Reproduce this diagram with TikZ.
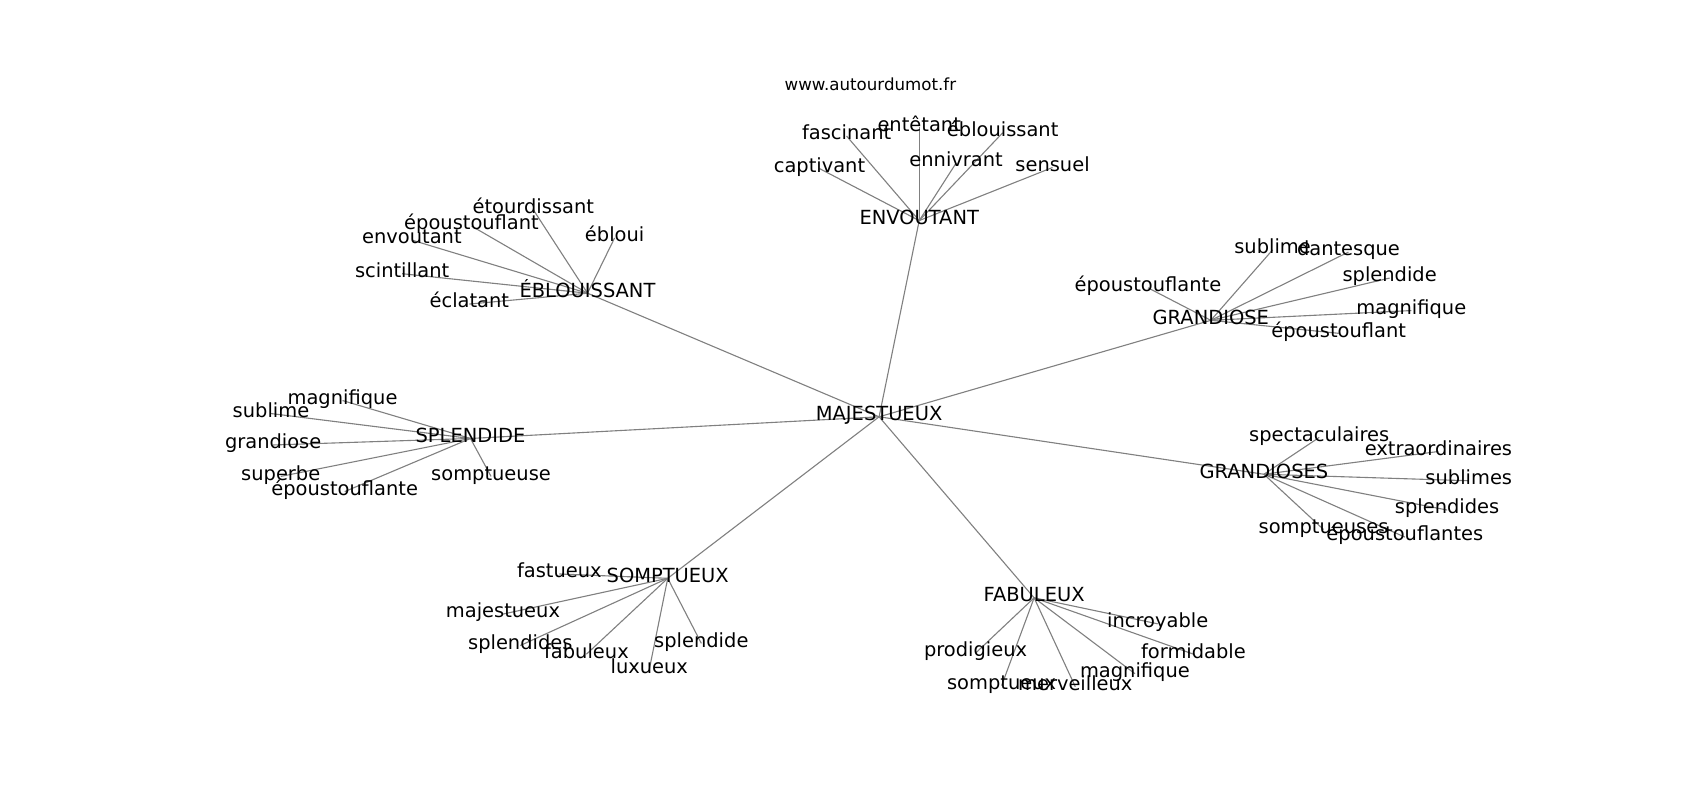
\documentclass[tikz,border=0pt]{standalone}
\usepackage{fontspec}
\setmainfont{DejaVu Sans}
\usetikzlibrary{backgrounds}
\tikzset{
  lbl/.style={inner sep=0pt, font=\fontsize{14pt}{16pt}\selectfont, text height=0.76em, text depth=0.21em, anchor=center},
  ttl/.style={inner sep=0pt, font=\fontsize{12pt}{14pt}\selectfont, text height=0.76em, text depth=0.21em, anchor=center},
  edge/.style={draw=gray, line width=0.8pt}
}
\begin{document}
\begin{tikzpicture}[x=0.78046pt,y=-0.78046pt]
\useasboundingbox (0,-3.5) rectangle (1568.3,734.5);
\node[ttl] (title) at (803,76) {www.autourdumot.fr};
% hub
\node[lbl] (maj) at (811,381) {MAJESTUEUX};
% ENVOUTANT
\node[lbl] (env) at (848,200) {ENVOUTANT};
\node[lbl] (env1) at (756,152) {captivant};
\node[lbl] (env2) at (781,122) {fascinant};
\node[lbl] (env3) at (848,114) {entêtant};
\node[lbl] (env4) at (925,119) {éblouissant};
\node[lbl] (env5) at (882,147) {ennivrant};
\node[lbl] (env6) at (971,151) {sensuel};
% EBLOUISSANT
\node[lbl] (ebl) at (542,267) {ÉBLOUISSANT};
\node[lbl] (ebl1) at (492,190) {étourdissant};
\node[lbl] (ebl2) at (435,205) {époustouflant};
\node[lbl] (ebl3) at (380,218) {envoutant};
\node[lbl] (ebl4) at (567,216) {ébloui};
\node[lbl] (ebl5) at (371,249) {scintillant};
\node[lbl] (ebl6) at (433,277) {éclatant};
% GRANDIOSE
\node[lbl] (gra) at (1117,292) {GRANDIOSE};
\node[lbl] (gra1) at (1174,227) {sublime};
\node[lbl] (gra2) at (1244,229) {dantesque};
\node[lbl] (gra3) at (1282,253) {splendide};
\node[lbl] (gra4) at (1302,283) {magnifique};
\node[lbl] (gra5) at (1235,304) {époustouflant};
\node[lbl] (gra6) at (1059,262) {époustouflante};
% SPLENDIDE
\node[lbl] (spl) at (434,401) {SPLENDIDE};
\node[lbl] (spl1) at (316,366) {magnifique};
\node[lbl] (spl2) at (250,378) {sublime};
\node[lbl] (spl3) at (252,407) {grandiose};
\node[lbl] (spl4) at (259,436) {superbe};
\node[lbl] (spl5) at (318,450) {époustouflante};
\node[lbl] (spl6) at (453,436) {somptueuse};
% GRANDIOSES
\node[lbl] (gras) at (1166,434) {GRANDIOSES};
\node[lbl] (gras1) at (1217,400) {spectaculaires};
\node[lbl] (gras2) at (1327,413) {extraordinaires};
\node[lbl] (gras3) at (1355,440) {sublimes};
\node[lbl] (gras4) at (1335,467) {splendides};
\node[lbl] (gras5) at (1221,485) {somptueuses};
\node[lbl] (gras6) at (1296,492) {époustouflantes};
% SOMPTUEUX
\node[lbl] (som) at (616,530) {SOMPTUEUX};
\node[lbl] (som1) at (516,526) {fastueux};
\node[lbl] (som2) at (464,563) {majestueux};
\node[lbl] (som3) at (480,592) {splendides};
\node[lbl] (som4) at (541,600) {fabuleux};
\node[lbl] (som5) at (599,614) {luxueux};
\node[lbl] (som6) at (647,590) {splendide};
% FABULEUX
\node[lbl] (fab) at (954,548) {FABULEUX};
\node[lbl] (fab1) at (900,599) {prodigieux};
\node[lbl] (fab2) at (924,629) {somptueux};
\node[lbl] (fab3) at (992,630) {merveilleux};
\node[lbl] (fab4) at (1047,618) {magnifique};
\node[lbl] (fab5) at (1068,572) {incroyable};
\node[lbl] (fab6) at (1101,600) {formidable};
\begin{scope}[on background layer]
\foreach \h in {env,ebl,gra,spl,gras,som,fab}{
  \draw[edge] (maj.center) -- (\h.center);
  \foreach \i in {1,...,6}{
    \draw[edge] (\h.center) -- (\h\i.center);
  }
}
\end{scope}
\end{tikzpicture}
\end{document}
